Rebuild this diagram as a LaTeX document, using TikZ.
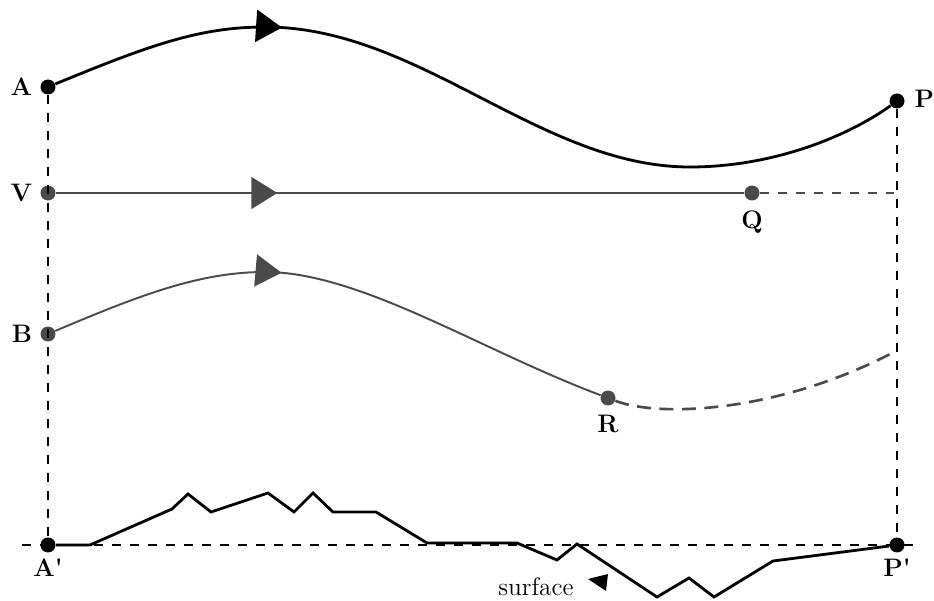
\documentclass[tikz,border=0pt]{standalone}
\usepackage{amsmath}
\usepackage{color}
\usetikzlibrary{arrows.meta,decorations.markings,positioning}

\definecolor{pathgrey}{HTML}{4A4A4A}

\begin{document}
\begin{tikzpicture}[x=0.02cm, y=-0.02cm,
	dot/.style={circle, fill, inner sep=0pt, minimum size=0.3cm},
	lbl/.style={font=\Large\bfseries},
	guide/.style={dashed, dash pattern=on 0.19cm off 0.17cm, line width=0.9pt},
	flow/.style={postaction={decorate, decoration={markings,
		mark=at position #1 with {\arrow{Triangle[length=0.52cm, width=0.64cm]}}}}}]
	\useasboundingbox (0,0) rectangle (934,601);

	% points
	\node[dot] (A) at (48,87) {};
	\node[dot] (P) at (897,101) {};
	\node[dot, pathgrey] (V) at (48,193) {};
	\node[dot, pathgrey] (Q) at (752,193) {};
	\node[dot, pathgrey] (B) at (48,334) {};
	\node[dot, pathgrey] (R) at (608,398) {};
	\node[dot] (A') at (48,545) {};
	\node[dot] (P') at (897,545) {};
	\coordinate (Qend) at (894,193);
	\coordinate (Rend) at (894,352);
	\coordinate (left) at (22,545);
	\coordinate (right) at (918,545);

	% labels
	\node[lbl, left=1pt of A] (lA) {A};
	\node[lbl, right=2pt of P, yshift=1pt] (lP) {P};
	\node[lbl, left=1pt of V] (lV) {V};
	\node[lbl, below=2pt of Q] (lQ) {Q};
	\node[lbl, left=1pt of B] (lB) {B};
	\node[lbl, below=2pt of R] (lR) {R};
	\node[lbl, below=0pt of A'] (lA') {A\textquotesingle};
	\node[lbl, below=0pt of P'] (lP') {P\textquotesingle};
	\node[font=\Large] (surf) at (536,587) {surface};

	% guides
	\draw[guide] (A) -- (A');
	\draw[guide] (P) -- (P');
	\draw[guide] (left) -- (right);

	% paths
	\draw[line width=1.6pt, flow=4.72cm] (A) .. controls (150,45) and (200,27) .. (265,27)
		.. controls (420,27) and (540,167) .. (690,167)
		.. controls (775,167) and (850,135) .. (P);
	\draw[pathgrey, line width=1.1pt, flow=4.43cm] (V) -- (Q);
	\draw[pathgrey, guide, line width=1.1pt] (Q) -- (Qend);
	\draw[pathgrey, line width=1.1pt, flow=4.72cm] (B) .. controls (140,295) and (200,272) .. (265,272)
		.. controls (360,272) and (480,350) .. (R);
	\draw[pathgrey, dashed, dash pattern=on 0.28cm off 0.17cm, line width=1.5pt]
		(R) .. controls (660,418) and (780,412) .. (Rend);

	% surface
	\draw[line width=1.6pt, line join=miter] (A') -- (90,545) -- (172,509) -- (188,494) -- (211,512)
		-- (268,493) -- (294,512) -- (313,493) -- (333,512) -- (376,512) -- (427,543)
		-- (517,543) -- (557,560) -- (577,544) -- (657,597) -- (689,578) -- (714,597)
		-- (773,561) -- (P');
	\fill (588,579) -- (608,574) -- (606,591) -- cycle;
\end{tikzpicture}
\end{document}
